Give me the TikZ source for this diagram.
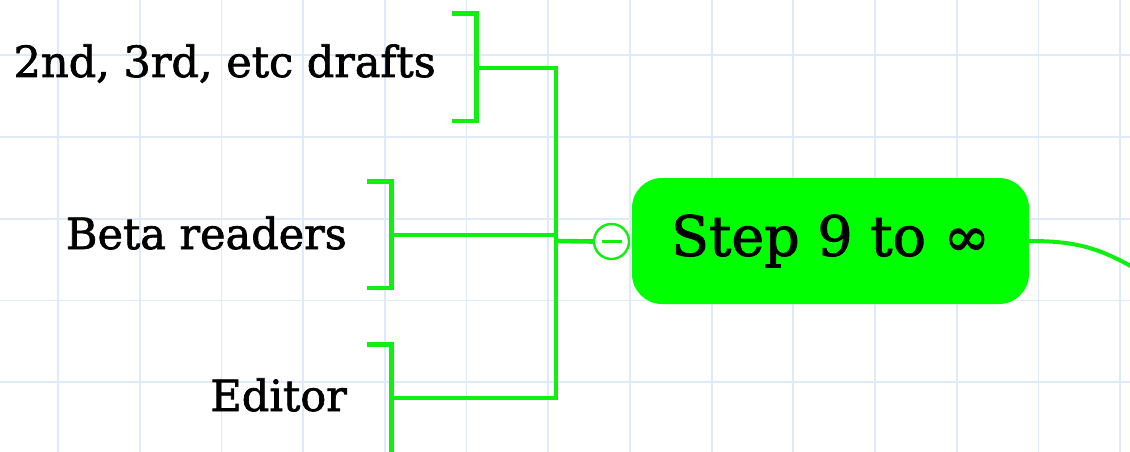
\documentclass[tikz,border=0pt]{standalone}
\usepackage{fontspec}
\setmainfont[FakeBold=1.6]{DejaVu Serif}
\definecolor{paper}{RGB}{255,255,255}
\definecolor{gridblue}{RGB}{222,234,249}
\definecolor{linkgreen}{RGB}{16,240,16}
\definecolor{boxgreen}{RGB}{0,255,0}
\begin{document}
\begin{tikzpicture}[x=1pt,y=-1pt,
  gridline/.style={draw=gridblue, line width=1.8pt},
  link/.style={draw=linkgreen, line width=4.6pt, line cap=butt, line join=miter},
  mainbox/.style={rectangle, rounded corners=30pt, fill=boxgreen,
    minimum width=397pt, minimum height=126pt, inner sep=0pt,
    font=\fontsize{55.5}{60}\selectfont},
  fold/.style={circle, draw=linkgreen, line width=2.4pt, fill=white,
    minimum size=35pt, inner sep=0pt},
  topic/.style={inner sep=0pt, font=\fontsize{43}{48}\selectfont}]
\useasboundingbox (0,0) rectangle (1130,452);
\fill[paper] (0,0) rectangle (1130,452);

% background grid
\begin{scope}
  \clip (0,0) rectangle (1130,452);
  \foreach \i in {0,...,13}
    \draw[gridline] ({58+81.7*\i},0) -- ({58+81.7*\i},452);
  \foreach \j in {0,...,4}
    \draw[gridline] (0,{55.3+81.7*\j}) -- (1130,{55.3+81.7*\j});
\end{scope}

% central topic and its fold button
\node[mainbox] (main) at (830.5,241) {Step 9 to ∞};
\node[fold] (fold) at (611.5,241.5) {};
\draw[linkgreen, line width=2.4pt] ([xshift=-10pt]fold.center) -- ([xshift=10pt]fold.center);

% outgoing link to the parent topic
\begin{scope}
  \clip (0,0) rectangle (1130,452);
  \coordinate (parent) at (1170,290);
  \draw[link, line width=4pt] (main.east) .. controls (1085,241) and (1108,250) .. (parent);
\end{scope}

% bus joining the three subtopics
\coordinate (busT) at (556,68);
\coordinate (busM) at (556,241);
\coordinate (busN) at (556,235);
\coordinate (busB) at (556,398);
\draw[link] (fold.west) -- (busM);
\draw[link] ([yshift=2.3pt]busT) -- ([yshift=-2.3pt]busB);

% brackets around each subtopic
\coordinate (k1) at (476.5,68);
\coordinate (k2) at (391.5,235);
\coordinate (k3) at (391.5,398);
\draw[link] (busT) -- (k1);
\draw[link] (busN) -- (k2);
\draw[link] (busB) -- (k3);
\draw[link] (452,13.5) -- (476.5,13.5) -- (476.5,121) -- (452,121);
\draw[link] (367,181.5) -- (391.5,181.5) -- (391.5,288) -- (367,288);
\draw[link] (367,344.5) -- (391.5,344.5) -- (391.5,460);

% subtopic labels
\node[topic, anchor=base east] (t1) at (436,77) {2nd, 3rd, etc drafts};
\node[topic, anchor=base east] (t2) at (347,249) {Beta readers};
\node[topic, anchor=base east] (t3) at (347,411) {Editor};
\end{tikzpicture}
\end{document}
